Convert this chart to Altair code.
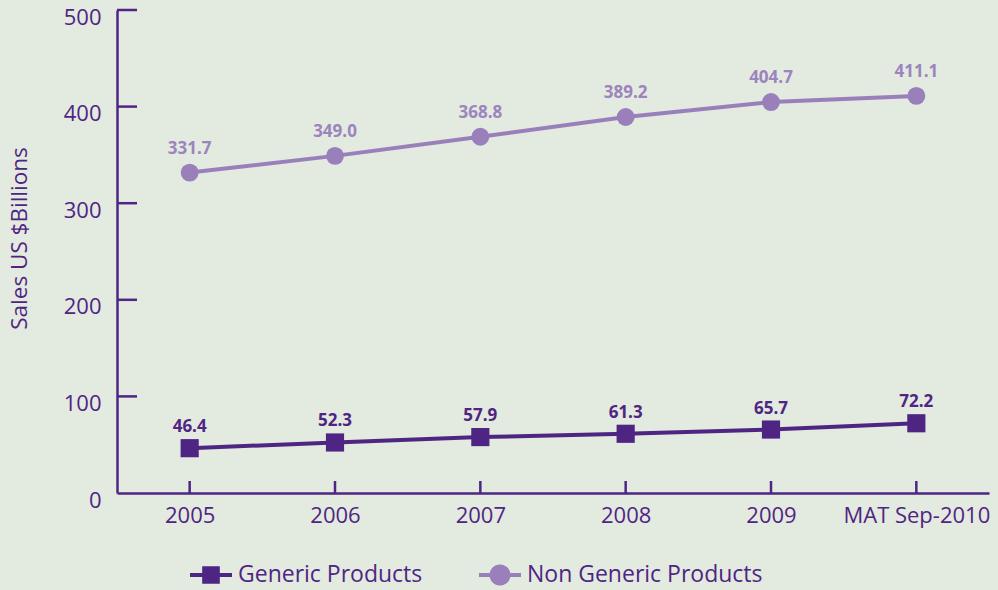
import altair as alt
import pandas as pd

categories = ["2005", "2006", "2007", "2008", "2009", "MAT Sep-2010"]
generic = [46.4, 52.3, 57.9, 61.3, 65.7, 72.2]
non_generic = [331.7, 349.0, 368.8, 389.2, 404.7, 411.1]
series_names = ["Generic Products", "Non Generic Products"]
y_ticks = [100, 200, 300, 400, 500]

DARK = "#4f2584"
LIGHT = "#9a80bb"
LIGHT_TEXT = "#9c84be"
BG = "#e3eadf"
FONT = "Open Sans"

rows = []
for c, g, n in zip(categories, generic, non_generic):
    rows.append({"cat": c, "value": g, "series": series_names[0], "label": f"{g:.1f}"})
    rows.append({"cat": c, "value": n, "series": series_names[1], "label": f"{n:.1f}"})
df = pd.DataFrame(rows)
cat_df = pd.DataFrame({"cat": categories})
ytick_df = pd.DataFrame({"tick": y_ticks})

xscale = alt.Scale(type="point", domain=categories, padding=0.5)
yscale = alt.Scale(domain=[0, 500], nice=False, zero=True)

x_axis = alt.X("cat:N", scale=xscale, sort=categories,
               axis=alt.Axis(title=None, ticks=False, grid=False, domainColor=DARK,
                             domainWidth=2.5, labelColor=DARK, labelFont=FONT,
                             labelFontSize=22, labelPadding=12, labelAngle=0))
y_axis = alt.Y("value:Q", scale=yscale,
               axis=alt.Axis(title="Sales US $Billions", values=[0, 100, 200, 300, 400, 500],
                             ticks=False, grid=False, domainColor=DARK, domainWidth=2.5,
                             labelColor=DARK, labelFont=FONT, labelFontSize=22,
                             labelPadding=16, labelOffset=7,
                             titleFont=FONT, titleFontSize=22.5, titleFontWeight="normal",
                             titleColor=DARK, titleAngle=270, titleX=-98, titleY=228,
                             titleAlign="center", titleBaseline="middle"))
x_enc = alt.X("cat:N", scale=xscale, sort=categories)
y_enc = alt.Y("value:Q", scale=yscale)

base = alt.Chart(df)
gen = base.transform_filter(alt.datum.series == series_names[0])
non = base.transform_filter(alt.datum.series == series_names[1])

xticks = alt.Chart(cat_df).mark_rule(color=DARK, strokeWidth=2.5).encode(
    x=x_enc, y=alt.value(471), y2=alt.value(483))

yticks = alt.Chart(ytick_df).mark_rule(color=DARK, strokeWidth=2.5).encode(
    y=alt.Y("tick:Q", scale=yscale), x=alt.value(0), x2=alt.value(20))

line_n = non.mark_line(strokeWidth=4, color=LIGHT).encode(x=x_axis, y=y_axis)
line_g = gen.mark_line(strokeWidth=4, color=DARK).encode(x=x_enc, y=y_enc)

pts_g = gen.mark_point(shape="square", filled=True, size=330, opacity=1, color=DARK).encode(
    x=x_enc, y=y_enc)
pts_n = non.mark_point(shape="circle", filled=True, size=320, opacity=1, color=LIGHT).encode(
    x=x_enc, y=y_enc)

lab_g = gen.mark_text(dy=-16, baseline="alphabetic", align="center", font=FONT, fontSize=17,
                      fontWeight="bold", color=DARK).encode(x=x_enc, y=y_enc, text="label:N")
lab_n = non.mark_text(dy=-19, baseline="alphabetic", align="center", font=FONT, fontSize=17,
                      fontWeight="bold", color=LIGHT_TEXT).encode(x=x_enc, y=y_enc, text="label:N")

sq_path = "M-1,-0.1H1V0.1H-1Z M-0.42,-0.42H0.42V0.42H-0.42Z"
ci_path = "M-1,-0.1H1V0.1H-1Z M-0.5,0A0.5,0.5 0 1,1 0.5,0A0.5,0.5 0 1,1 -0.5,0Z"

def make_legend():
    return alt.Legend(
        orient="none", legendX=73, legendY=544, direction="horizontal", title=None,
        symbolSize=1764, symbolStrokeWidth=0, symbolOpacity=1,
        labelFont=FONT, labelFontSize=23, labelColor=DARK, labelOffset=6,
        columnPadding=56, padding=0, labelLimit=400)

legend_layer = base.mark_point(filled=True, opacity=0).encode(
    x=x_enc, y=y_enc,
    color=alt.Color("series:N", scale=alt.Scale(domain=series_names, range=[DARK, LIGHT]),
                    legend=make_legend()),
    shape=alt.Shape("series:N", scale=alt.Scale(domain=series_names, range=[sq_path, ci_path]),
                    legend=make_legend()))

chart = alt.layer(line_n, line_g, xticks, yticks, pts_g, pts_n, lab_g, lab_n, legend_layer).properties(
    width=872, height=483,
    autosize=alt.AutoSizeParams(type="none"),
    padding={"left": 117, "top": 10, "right": 9, "bottom": 97},
    background=BG,
).configure_view(stroke=None)

chart.save("out.html", embed_options={"renderer": "svg", "actions": False})
